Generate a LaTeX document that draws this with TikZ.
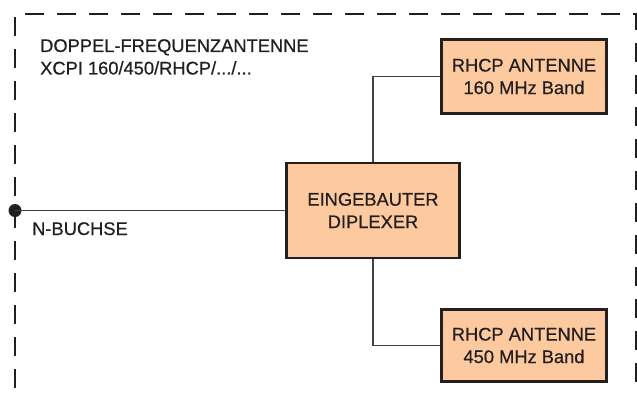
\documentclass[tikz,border=0pt]{standalone}
\usepackage{fontspec}
\setmainfont{Liberation Sans}
\newfontface\medfont{Liberation Sans}[FakeBold=0.6]
\usetikzlibrary{positioning}
\definecolor{peach}{HTML}{FDC99F}
\definecolor{ink}{HTML}{231F20}
\tikzset{
  wire/.style    = {draw=ink!85, line width=1.2pt},
  frame/.style   = {draw=ink, line width=2.5pt, dash pattern=on 19pt off 13pt},
  %% Box preset
  blockbox/.style = {draw=ink, fill=peach, line width=2.6pt, align=center, inner sep=0pt,
                     text=ink, font=\medfont\fontsize{18.3}{22.5}\selectfont},
  lbl/.style      = {text=ink, inner sep=0pt, font=\medfont\fontsize{18.3}{22.5}\selectfont},
}
\begin{document}
\begin{tikzpicture}[x=1pt, y=-1pt]
\useasboundingbox (0,0) rectangle (637,392);

%% ---- Outer dashed frame ----
\draw[frame] (15,420) -- (15,14) -- (636,14) -- (636,420);

%% ---- Title ----
\node[lbl, align=left, anchor=north west] (title) at (40,39)
  {DOPPEL-FREQUENZANTENNE\\XCPI 160/450/RHCP/.../...};

%% ---- Blocks ----
\node[blockbox, minimum width=165pt, minimum height=74pt] (ant160)   at (524,76.5)
  {RHCP ANTENNE\\160 MHz Band};
\node[blockbox, minimum width=173pt, minimum height=95pt] (diplexer) at (373,210.5)
  {EINGEBAUTER\\DIPLEXER};
\node[blockbox, minimum width=165pt, minimum height=72pt] (ant450)   at (524,345.5)
  {RHCP ANTENNE\\450 MHz Band};

%% ---- N connector ----
\coordinate (buchse) at (15,210.5);
\fill[ink] (buchse) circle (6.5pt);
\node[lbl, anchor=base west] (buchselbl) at (32,235) {N-BUCHSE};

%% ---- Connections ----
\draw[wire] (buchse) -- (diplexer.west);
\draw[wire] (diplexer.north) |- (ant160.west);
\draw[wire] (diplexer.south) |- (ant450.west);

\end{tikzpicture}
\end{document}
